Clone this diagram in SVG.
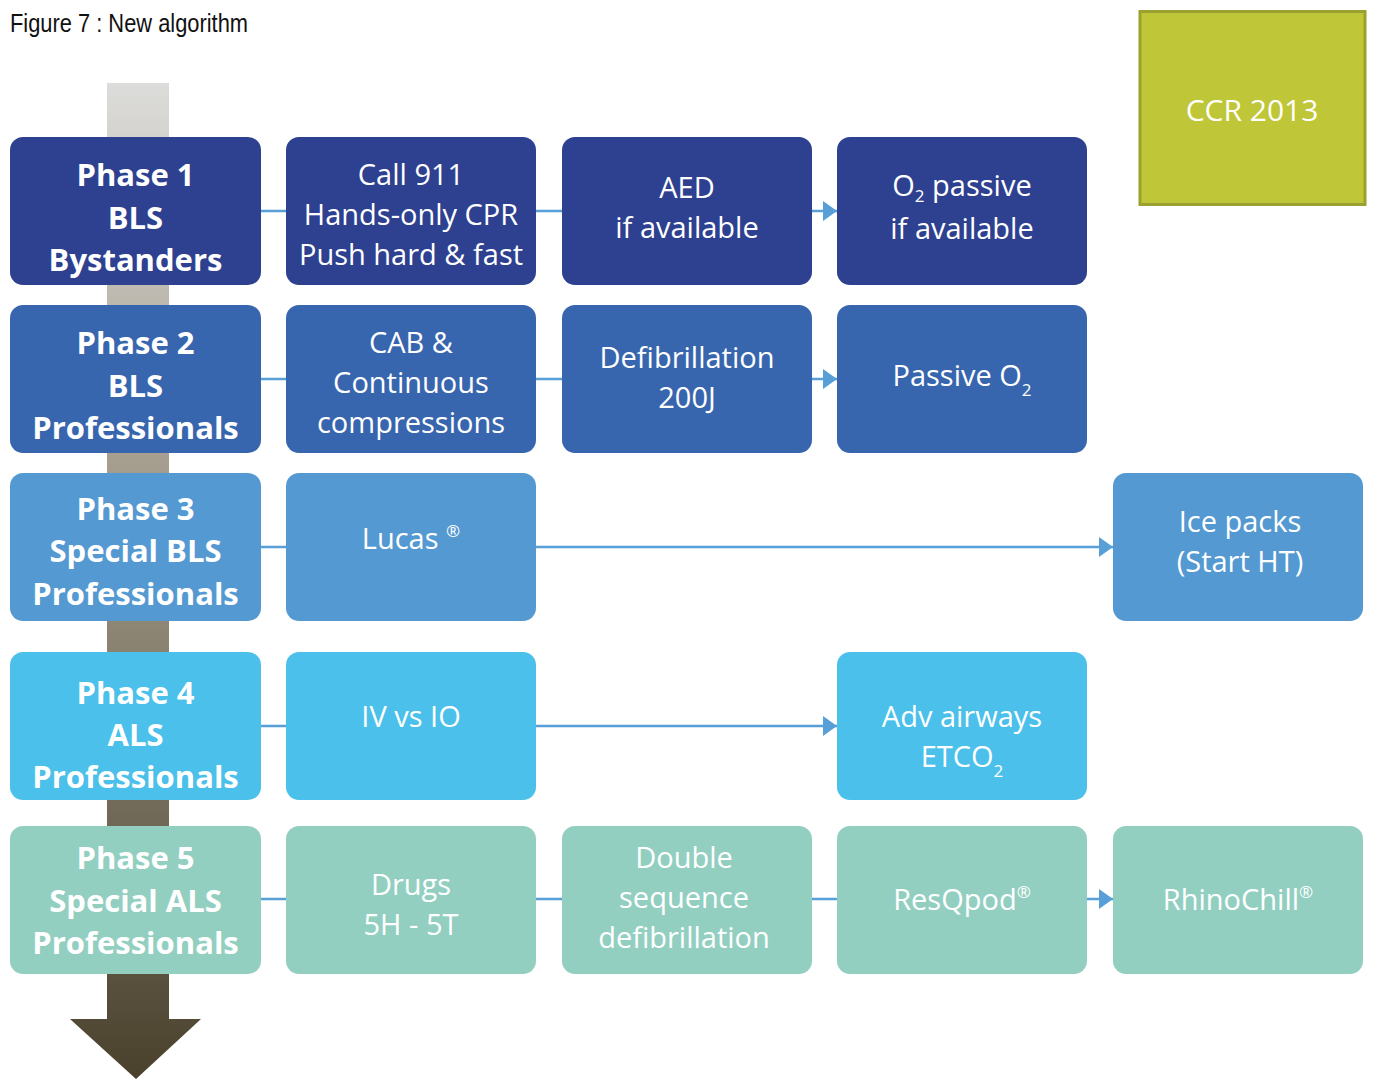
<svg xmlns="http://www.w3.org/2000/svg" width="1373" height="1079" viewBox="0 0 1373 1079">
<defs>
<linearGradient id="colg" x1="0" y1="83" x2="0" y2="1079" gradientUnits="userSpaceOnUse">
<stop offset="0" stop-color="#dcdcda"/>
<stop offset="0.4" stop-color="#a39c8c"/>
<stop offset="1" stop-color="#4a412d"/>
</linearGradient>
<marker id="ah" viewBox="0 0 14 20" refX="14" refY="10" markerWidth="14" markerHeight="20" markerUnits="userSpaceOnUse" orient="auto">
<path d="M0,0 L14,10 L0,20 Z" fill="#579fd6"/>
</marker>
<style>
.r1{fill:#2e4190}.r2{fill:#3866ae}.r3{fill:#5499d1}.r4{fill:#4bc0ea}.r5{fill:#93cfc1}
.ph{font-family:"Open Sans","DejaVu Sans",sans-serif;font-weight:bold;font-size:31px;fill:#fff;text-anchor:middle}
.tx{font-family:"Open Sans","DejaVu Sans",sans-serif;font-size:29px;fill:#fff;text-anchor:middle}
.sub{font-size:17px}
.ln{stroke:#579fd6;stroke-width:2.5;fill:none}
</style>
</defs>
<rect width="1373" height="1079" fill="#fff"/>
<text x="10" y="32" font-family="'Liberation Sans',sans-serif" font-size="25" fill="#111" textLength="238" lengthAdjust="spacingAndGlyphs">Figure 7 : New algorithm</text>
<g id="ccr">
<rect x="1140" y="11.5" width="225" height="193" fill="#bfc637" stroke="#9aa12e" stroke-width="3"/>
<text x="1252" y="121" font-family="'Open Sans',sans-serif" font-size="30" fill="#fff" text-anchor="middle">CCR 2013</text>
</g>
<g id="timeline">
<path d="M107,83 H169 V1019 H201 L136,1079 L70,1019 H107 Z" fill="url(#colg)"/>
</g>
<g id="connectors">
<path class="ln" d="M261,211 H286 M536,211 H562"/>
<path class="ln" d="M812,211 H837" marker-end="url(#ah)"/>
<path class="ln" d="M261,379 H286 M536,379 H562"/>
<path class="ln" d="M812,379 H837" marker-end="url(#ah)"/>
<path class="ln" d="M261,547 H286"/>
<path class="ln" d="M536,547 H1113" marker-end="url(#ah)"/>
<path class="ln" d="M261,726 H286"/>
<path class="ln" d="M536,726 H837" marker-end="url(#ah)"/>
<path class="ln" d="M261,899 H286 M536,899 H562 M812,899 H837"/>
<path class="ln" d="M1087,899 H1113" marker-end="url(#ah)"/>
</g>
<g id="phase1">
<rect class="r1" x="10" y="137" width="251" height="148" rx="13"/>
<text class="ph" x="135.5" y="186">Phase 1</text><text class="ph" x="135.5" y="229">BLS</text><text class="ph" x="135.5" y="271">Bystanders</text>
</g>
<g id="call911">
<rect class="r1" x="286" y="137" width="250" height="148" rx="13"/>
<text class="tx" x="411" y="185">Call 911</text><text class="tx" x="411" y="225">Hands-only CPR</text><text class="tx" x="411" y="265">Push hard &amp; fast</text>
</g>
<g id="aed">
<rect class="r1" x="562" y="137" width="250" height="148" rx="13"/>
<text class="tx" x="687" y="198">AED</text><text class="tx" x="687" y="238">if available</text>
</g>
<g id="o2passive">
<rect class="r1" x="837" y="137" width="250" height="148" rx="13"/>
<text class="tx" x="962" y="196">O<tspan class="sub" dy="6">2</tspan><tspan dy="-6"> passive</tspan></text><text class="tx" x="962" y="239">if available</text>
</g>
<g id="phase2">
<rect class="r2" x="10" y="305" width="251" height="148" rx="13"/>
<text class="ph" x="135.5" y="354">Phase 2</text><text class="ph" x="135.5" y="397">BLS</text><text class="ph" x="135.5" y="439">Professionals</text>
</g>
<g id="cab">
<rect class="r2" x="286" y="305" width="250" height="148" rx="13"/>
<text class="tx" x="411" y="353">CAB &amp;</text><text class="tx" x="411" y="393">Continuous</text><text class="tx" x="411" y="433">compressions</text>
</g>
<g id="defib">
<rect class="r2" x="562" y="305" width="250" height="148" rx="13"/>
<text class="tx" x="687" y="368">Defibrillation</text><text class="tx" x="687" y="408">200J</text>
</g>
<g id="passiveo2">
<rect class="r2" x="837" y="305" width="250" height="148" rx="13"/>
<text class="tx" x="962" y="386">Passive O<tspan class="sub" dy="10">2</tspan></text>
</g>
<g id="phase3">
<rect class="r3" x="10" y="473" width="251" height="148" rx="13"/>
<text class="ph" x="135.5" y="520">Phase 3</text><text class="ph" x="135.5" y="562">Special BLS</text><text class="ph" x="135.5" y="605">Professionals</text>
</g>
<g id="lucas">
<rect class="r3" x="286" y="473" width="250" height="148" rx="13"/>
<text class="tx" x="411" y="549">Lucas <tspan class="sub" dy="-12">®</tspan></text>
</g>
<g id="icepacks">
<rect class="r3" x="1113" y="473" width="250" height="148" rx="13"/>
<text class="tx" x="1240" y="532">Ice packs</text><text class="tx" x="1240" y="572">(Start HT)</text>
</g>
<g id="phase4">
<rect class="r4" x="10" y="652" width="251" height="148" rx="13"/>
<text class="ph" x="135.5" y="704">Phase 4</text><text class="ph" x="135.5" y="746">ALS</text><text class="ph" x="135.5" y="788">Professionals</text>
</g>
<g id="ivio">
<rect class="r4" x="286" y="652" width="250" height="148" rx="13"/>
<text class="tx" x="411" y="727">IV vs IO</text>
</g>
<g id="advairways">
<rect class="r4" x="837" y="652" width="250" height="148" rx="13"/>
<text class="tx" x="962" y="727">Adv airways</text><text class="tx" x="962" y="767">ETCO<tspan class="sub" dy="10">2</tspan></text>
</g>
<g id="phase5">
<rect class="r5" x="10" y="826" width="251" height="148" rx="13"/>
<text class="ph" x="135.5" y="869">Phase 5</text><text class="ph" x="135.5" y="912">Special ALS</text><text class="ph" x="135.5" y="954">Professionals</text>
</g>
<g id="drugs">
<rect class="r5" x="286" y="826" width="250" height="148" rx="13"/>
<text class="tx" x="411" y="895">Drugs</text><text class="tx" x="411" y="935">5H - 5T</text>
</g>
<g id="dsd">
<rect class="r5" x="562" y="826" width="250" height="148" rx="13"/>
<text class="tx" x="684" y="868">Double</text><text class="tx" x="684" y="908">sequence</text><text class="tx" x="684" y="948">defibrillation</text>
</g>
<g id="resqpod">
<rect class="r5" x="837" y="826" width="250" height="148" rx="13"/>
<text class="tx" x="962" y="910">ResQpod<tspan class="sub" dy="-12">®</tspan></text>
</g>
<g id="rhinochill">
<rect class="r5" x="1113" y="826" width="250" height="148" rx="13"/>
<text class="tx" x="1238" y="910">RhinoChill<tspan class="sub" dy="-12">®</tspan></text>
</g>
</svg>
